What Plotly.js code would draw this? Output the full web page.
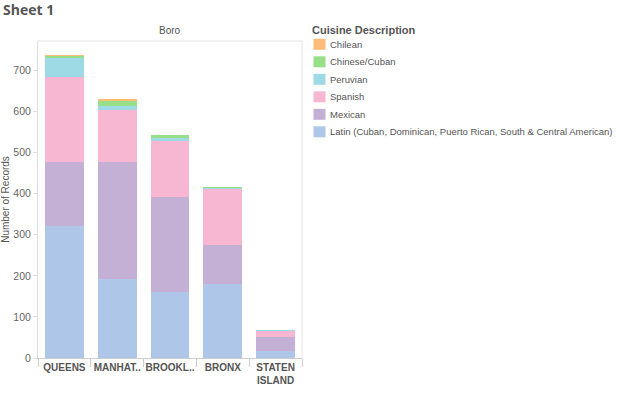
<!DOCTYPE html>
<html><head><meta charset="utf-8">
<script src="https://cdn.plot.ly/plotly-3.0.1.min.js"></script>
<style>body{margin:0;background:#fff}#c{width:620px;height:394px}</style>
</head><body><div id="c"></div>
<script>
const boros = ["QUEENS", "MANHAT..", "BROOKL..", "BRONX", "STATEN<br>ISLAND"];
const latin    = [322, 192, 160, 180, 17];
const mexican  = [156, 286, 233, 95, 35];
const spanish  = [206, 126, 135, 137, 14];
const peruvian = [47, 10, 8, 2, 2];
const chineseCuban = [5, 11, 6, 3, 0];
const chilean  = [2, 5, 1, 0, 0];
const seriesNames = ["Latin (Cuban, Dominican, Puerto Rican, South & Central American)", "Mexican", "Spanish", "Peruvian", "Chinese/Cuban", "Chilean"];
const seriesValues = [latin, mexican, spanish, peruvian, chineseCuban, chilean];
const colors = ["#aec7e8", "#c5b0d5", "#f7b6d2", "#9edae5", "#98df8a", "#ffbb78"];
const yTicks = [0, 100, 200, 300, 400, 500, 600, 700];

const traces = seriesNames.map((n, i) => ({
  type: "bar", name: n, x: boros, y: seriesValues[i],
  marker: {color: colors[i], line: {width: 0}},
  hoverinfo: "none", showlegend: false
}));

// plot area geometry (pixels)
const L = 38, T = 41, W = 264, H = 317;
const px = x => (x - L) / W;
const py = y => (T + H - y) / H;

const shapes = [
  {type: "line", xref: "paper", yref: "paper", x0: 0, x1: 1, y0: 1, y1: 1, line: {color: "#e3e3e3", width: 1}},
  {type: "line", xref: "paper", yref: "paper", x0: 1, x1: 1, y0: 0, y1: 1, line: {color: "#e3e3e3", width: 1}}
];
const annotations = [
  {text: "<b>Sheet 1</b>", xref: "paper", yref: "paper", x: px(1), y: py(10), xanchor: "left", yanchor: "middle", showarrow: false, font: {size: 14, color: "#555", family: "Open Sans, Liberation Sans, sans-serif"}},
  {text: "Boro", xref: "paper", yref: "paper", x: 0.5, y: py(31), xanchor: "center", yanchor: "middle", showarrow: false, font: {size: 10, color: "#555"}},
  {text: "<b>Cuisine Description</b>", xref: "paper", yref: "paper", x: px(310), y: py(30), xanchor: "left", yanchor: "middle", showarrow: false, font: {size: 11, color: "#555"}}
];
// legend (top to bottom: reversed stack order)
for (let k = 0; k < seriesNames.length; k++) {
  const i = seriesNames.length - 1 - k;
  const cy = 44.3 + k * 17.5;
  shapes.push({type: "rect", xref: "paper", yref: "paper", x0: px(313.5), x1: px(325.5), y0: py(cy - 5.5), y1: py(cy + 5.5), fillcolor: colors[i], line: {width: 0}});
  annotations.push({text: seriesNames[i], xref: "paper", yref: "paper", x: px(328), y: py(cy), xanchor: "left", yanchor: "middle", showarrow: false, font: {size: 9.5, color: "#555"}});
}

const layout = {
  width: 620, height: 394,
  margin: {l: L, r: 620 - L - W, t: T, b: 394 - T - H},
  barmode: "stack", bargap: 0.263,
  paper_bgcolor: "#fff", plot_bgcolor: "#fff",
  font: {family: "Liberation Sans, Arial, sans-serif", color: "#666", size: 11},
  xaxis: {
    type: "category", showgrid: false, ticks: "outside", tickson: "boundaries",
    ticklen: 8, tickcolor: "#ccc", showline: true, linecolor: "#ccc",
    tickangle: 0, automargin: false,
    tickfont: {size: 10, color: "#555", family: "Liberation Sans, Arial, sans-serif", weight: "bold"},
    fixedrange: true
  },
  yaxis: {
    range: [0, 772], tickvals: yTicks, showgrid: false, zeroline: false, automargin: false,
    ticks: "outside", ticklen: 4, tickcolor: "#ddd", showline: true, linecolor: "#ddd",
    tickfont: {size: 10.5, color: "#666"},
    title: {text: "Number of Records", font: {size: 10, color: "#555"}, standoff: 6}
  },
  showlegend: false,
  shapes: shapes,
  annotations: annotations
};
Plotly.newPlot("c", traces, layout, {staticPlot: true, displayModeBar: false});
</script></body></html>
